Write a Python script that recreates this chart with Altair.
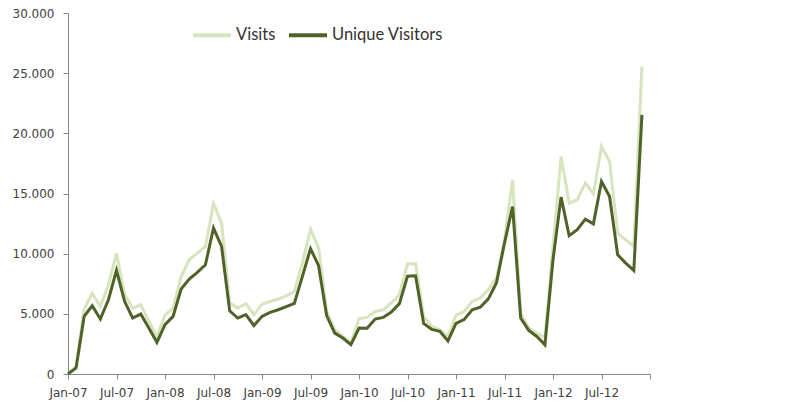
import altair as alt
import pandas as pd

# Tick labels every 6 months (last tick, Jan-13, has no label)
tick_labels = ["Jan-07", "Jul-07", "Jan-08", "Jul-08", "Jan-09", "Jul-09",
               "Jan-10", "Jul-10", "Jan-11", "Jul-11", "Jan-12", "Jul-12", ""]

series_names = ["Visits", "Unique Visitors"]
series_colors = ["#d7e4bd", "#4f6228"]

# Monthly values Jan-07 .. Dec-12
visits = [0, 600, 5400, 6700, 5600, 7400, 10050, 6600, 5480, 5760, 4400, 3130,
          4900, 5480, 8100, 9490, 10050, 10600, 14150, 12540, 5900, 5480, 5840, 4925,
          5800, 6030, 6230, 6500, 6860, 9220, 12040, 10460, 5200, 3680, 3120, 2570,
          4600, 4700, 5200, 5340, 5900, 6590, 9160, 9160, 4790, 3950, 3680, 3120,
          4900, 5180, 6030, 6310, 7000, 7970, 11150, 16140, 5070, 3820, 3400, 2990,
          10600, 18070, 14200, 14480, 15860, 14980, 18900, 17660, 11710, 11150, 10600, 25550]

unique = [0, 500, 4790, 5680, 4570, 6170, 8610, 6040, 4650, 4980, 3820, 2630,
          4100, 4790, 7060, 7890, 8450, 9080, 12130, 10600, 5250, 4650, 4930, 4030,
          4790, 5120, 5340, 5600, 5870, 8110, 10420, 9000, 4850, 3400, 2990, 2440,
          3820, 3800, 4570, 4700, 5150, 5850, 8130, 8160, 4200, 3700, 3540, 2740,
          4200, 4520, 5340, 5550, 6240, 7560, 10880, 13920, 4650, 3620, 3120, 2430,
          9500, 14700, 11490, 11990, 12870, 12480, 16000, 14750, 9910, 9220, 8610, 21540]

n = len(visits)
df = pd.DataFrame({
    "month": list(range(n)) * 2,
    "value": visits + unique,
    "series": [series_names[0]] * n + [series_names[1]] * n,
})

x_label_expr = "[" + ",".join("'" + t + "'" for t in tick_labels) + "][round(datum.value/6)]"

axis_grey = "#868686"
label_grey = "#404040"

chart = alt.Chart(df).mark_line(strokeWidth=3).encode(
    x=alt.X("month:Q",
            scale=alt.Scale(domain=[0, 72], nice=False, zero=False),
            axis=alt.Axis(values=list(range(0, 73, 6)), labelExpr=x_label_expr,
                          title=None, grid=False, domainColor=axis_grey,
                          tickColor=axis_grey, tickSize=5, labelPadding=8,
                          labelFont="DejaVu Sans", labelFontSize=12,
                          labelColor=label_grey, labelAngle=0,
                          labelOverlap=False, labelFlush=False)),
    y=alt.Y("value:Q",
            scale=alt.Scale(domain=[0, 30000], nice=False),
            axis=alt.Axis(values=list(range(0, 30001, 5000)),
                          labelExpr="replace(format(datum.value, ','), ',', '.')",
                          title=None, grid=False, domainColor=axis_grey,
                          tickColor=axis_grey, tickSize=5, labelPadding=9,
                          labelFont="DejaVu Sans", labelFontSize=12,
                          labelColor=label_grey)),
    color=alt.Color("series:N",
                    scale=alt.Scale(domain=series_names, range=series_colors),
                    legend=alt.Legend(title=None, orient="none", legendX=123, legendY=1,
                                      direction="horizontal", symbolType="stroke",
                                      symbolSize=1444, symbolStrokeWidth=4,
                                      labelFont="Lato", labelFontSize=16.5,
                                      labelColor="#333333", columnPadding=5,
                                      labelOffset=3)),
).properties(
    width=582, height=361,
    autosize=alt.AutoSizeParams(type="none"),
    padding={"left": 68, "top": 13, "right": 138, "bottom": 45},
).configure_view(stroke=None)

chart.save("out.html", embed_options={"renderer": "svg", "actions": False})
